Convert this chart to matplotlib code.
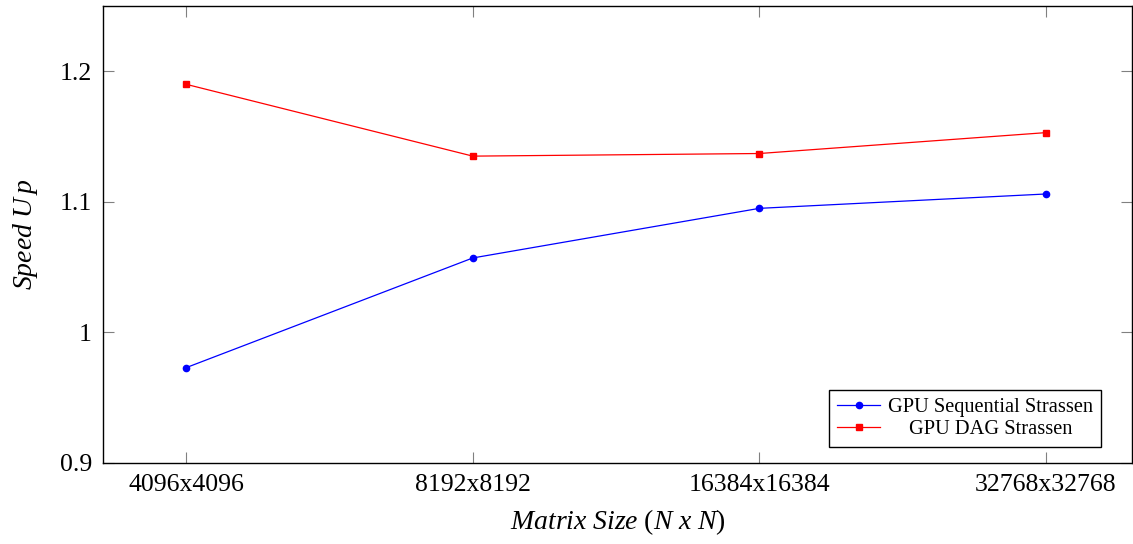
import matplotlib.pyplot as plt
from matplotlib.transforms import Affine2D

# Speed up of Strassen variants vs. matrix size
sizes = ["4096x4096", "8192x8192", "16384x16384", "32768x32768"]
seq_speedup = [0.973, 1.057, 1.095, 1.106]
dag_speedup = [1.190, 1.135, 1.137, 1.153]
y_ticks = [0.9, 1.0, 1.1, 1.2]
y_tick_labels = ["0.9", "1", "1.1", "1.2"]

plt.rcParams["font.family"] = "Liberation Serif"
plt.rcParams["mathtext.fontset"] = "custom"
plt.rcParams["mathtext.rm"] = "Liberation Serif"
plt.rcParams["mathtext.it"] = "Liberation Serif:italic"

fig = plt.figure(figsize=(11.33, 5.44), dpi=100)
ax = fig.add_axes([0.091, 0.149, 0.908, 0.840])

x = range(len(sizes))
ax.plot(x, seq_speedup, "-o", color="#0000ff", linewidth=0.9, markersize=4.5,
        label="GPU Sequential Strassen")
ax.plot(x, dag_speedup, "-s", color="#ff0000", linewidth=0.9, markersize=4.5,
        label="GPU DAG Strassen")

ax.set_xlim(-0.29, 3.3)
ax.set_ylim(0.9, 1.25)
ax.set_xticks(list(x))
ax.set_xticklabels(sizes)
ax.set_yticks(y_ticks)
ax.set_yticklabels(y_tick_labels)
ax.tick_params(direction="in", length=8, width=0.8, color="#808080",
               labelsize=18.5, top=True, right=True, pad=8)
for s in ax.spines.values():
    s.set_linewidth(1.0)

ax.set_ylabel(r"$Speed\ U\,p$", fontsize=20, labelpad=14)
ax.set_xlabel(r"$Matrix\ Size\ (N\ x\ N)$", fontsize=20, labelpad=8)

leg = ax.legend(loc="lower right", bbox_to_anchor=(0.970, 0.035), borderaxespad=0,
                fontsize=14.7, fancybox=False, edgecolor="black", framealpha=1,
                handlelength=2.1, handletextpad=0.4, borderpad=0.38,
                labelspacing=0.15)
leg.get_frame().set_linewidth(1.0)

# center the shorter legend entry like pgfplots does
fig.canvas.draw()
texts = leg.get_texts()
r = fig.canvas.get_renderer()
widths = [t.get_window_extent(r).width for t in texts]
wmax = max(widths)
for t, w in zip(texts, widths):
    t.set_transform(t.get_transform() + Affine2D().translate((wmax - w) / 2, 0))

fig.savefig("out.png")
